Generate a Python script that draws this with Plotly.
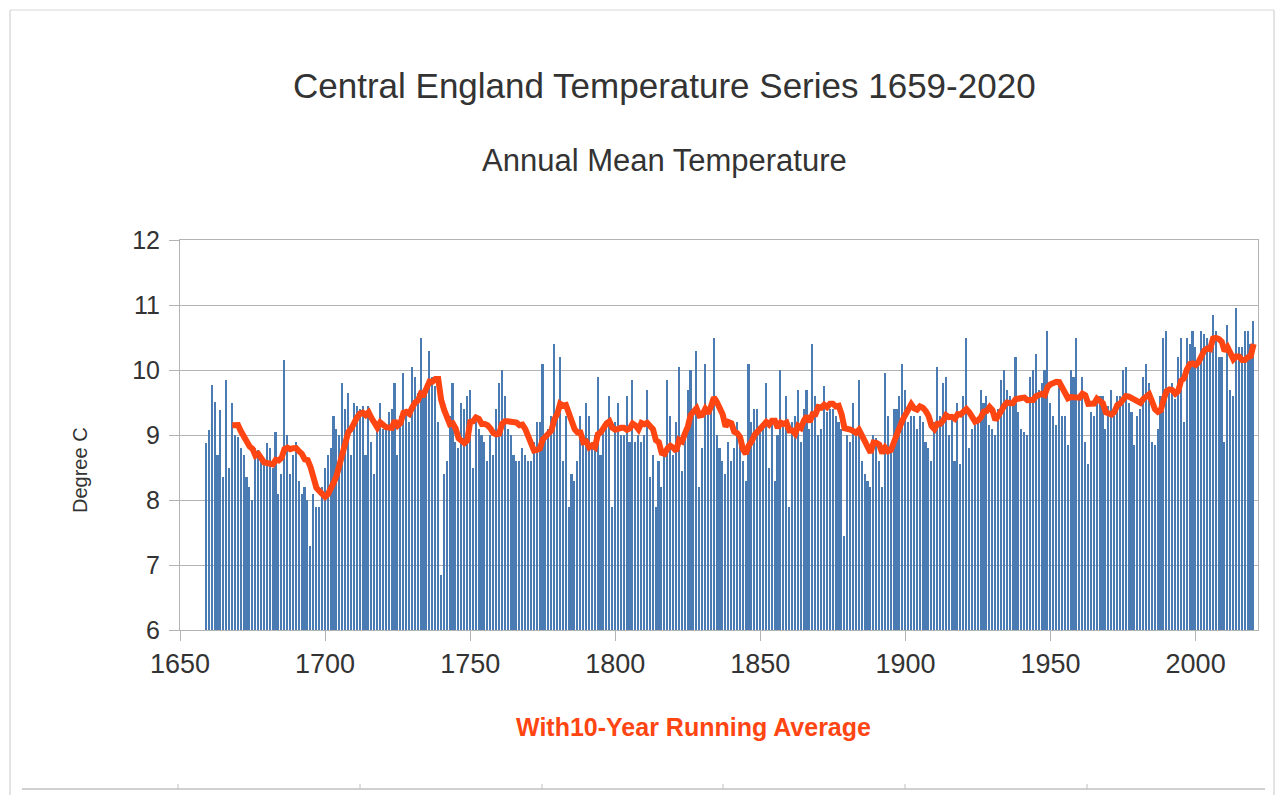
import plotly.graph_objects as go
import pandas as pd

start_year = 1659
temps = [
    # 1659-1668
    8.87, 9.08, 9.77, 9.51, 8.70, 9.38, 8.35, 9.85, 8.50, 9.50,
    # 1669-1678
    9.00, 8.97, 8.80, 8.70, 8.35, 8.20, 8.00, 8.80, 8.77, 8.65,
    # 1679-1688
    8.55, 8.87, 8.80, 8.50, 9.05, 8.10, 8.40, 10.15, 9.00, 8.40,
    # 1689-1698
    8.70, 8.90, 8.30, 8.10, 8.20, 8.00, 7.30, 8.10, 7.90, 7.90,
    # 1699-1708
    8.20, 8.50, 8.70, 8.80, 9.30, 9.10, 9.00, 9.80, 9.40, 9.65,
    # 1709-1718
    8.70, 9.50, 9.45, 9.40, 9.45, 8.70, 9.45, 8.90, 8.40, 9.20,
    # 1719-1728
    9.50, 9.10, 9.10, 9.35, 9.40, 9.80, 8.70, 9.30, 9.95, 9.35,
    # 1729-1738
    9.20, 10.05, 9.90, 9.65, 10.50, 9.65, 9.70, 10.30, 9.90, 9.75,
    # 1739-1748
    9.20, 6.85, 8.40, 8.60, 9.30, 9.80, 8.90, 8.80, 9.50, 9.40,
    # 1749-1758
    9.60, 9.70, 8.50, 9.20, 9.10, 9.00, 8.90, 8.60, 9.00, 8.70,
    # 1759-1768
    9.40, 9.80, 10.00, 9.60, 9.10, 9.00, 8.70, 8.60, 8.60, 8.80,
    # 1769-1778
    8.70, 8.60, 8.60, 8.90, 9.20, 9.20, 10.10, 9.00, 9.10, 9.30,
    # 1779-1788
    10.40, 9.40, 10.20, 8.60, 9.30, 7.90, 8.40, 8.30, 8.60, 9.30,
    # 1789-1798
    8.90, 9.50, 9.30, 8.90, 9.00, 9.90, 8.70, 9.10, 9.20, 9.60,
    # 1799-1808
    7.90, 9.20, 9.50, 9.00, 9.00, 9.60, 8.90, 9.85, 8.90, 9.00,
    # 1809-1818
    8.90, 9.00, 9.70, 8.35, 8.70, 7.90, 8.60, 8.20, 8.75, 9.85,
    # 1819-1828
    9.30, 8.70, 9.20, 10.05, 8.45, 9.10, 9.70, 10.00, 9.30, 10.30,
    # 1829-1838
    8.20, 8.80, 10.10, 9.40, 9.50, 10.50, 9.00, 8.80, 8.60, 8.40,
    # 1839-1848
    8.90, 8.60, 8.80, 9.20, 8.90, 8.60, 8.30, 10.10, 9.20, 9.40,
    # 1849-1858
    9.40, 9.10, 9.20, 9.80, 8.50, 9.20, 8.30, 9.00, 10.00, 9.20,
    # 1859-1868
    9.60, 7.90, 9.20, 9.30, 9.70, 8.90, 9.40, 9.70, 9.10, 10.40,
    # 1869-1878
    9.60, 9.00, 9.10, 9.75, 9.35, 9.40, 9.40, 9.30, 9.20, 9.10,
    # 1879-1888
    7.45, 9.00, 8.90, 9.50, 9.10, 9.85, 8.60, 8.40, 8.30, 8.20,
    # 1889-1898
    9.00, 8.95, 8.60, 8.20, 9.95, 9.30, 8.80, 9.40, 9.40, 9.60,
    # 1899-1908
    10.10, 9.70, 9.20, 9.30, 9.30, 9.10, 9.30, 9.20, 8.90, 8.80,
    # 1909-1918
    8.60, 9.20, 10.05, 9.30, 9.80, 9.90, 9.00, 9.25, 8.60, 9.50,
    # 1919-1928
    8.55, 9.60, 10.50, 8.80, 9.10, 9.15, 9.20, 9.70, 9.50, 9.60,
    # 1929-1938
    9.15, 9.10, 9.00, 9.40, 9.85, 10.00, 9.70, 9.60, 9.50, 10.20,
    # 1939-1948
    9.35, 9.10, 9.05, 9.00, 9.90, 10.00, 10.25, 9.70, 9.80, 10.00,
    # 1949-1958
    10.60, 9.50, 9.30, 9.15, 9.85, 9.30, 9.30, 8.85, 10.00, 9.90,
    # 1959-1968
    10.50, 9.60, 9.90, 8.90, 8.55, 9.35, 9.30, 9.60, 9.60, 9.60,
    # 1969-1978
    9.10, 9.45, 9.70, 9.30, 9.60, 9.60, 10.00, 10.05, 9.50, 9.35,
    # 1979-1988
    8.85, 9.30, 9.40, 9.90, 10.10, 9.80, 8.90, 8.85, 9.10, 9.60,
    # 1989-1998
    10.50, 10.60, 9.65, 9.80, 9.55, 10.20, 10.50, 9.20, 10.50, 10.40,
    # 1999-2008
    10.60, 10.35, 10.10, 10.60, 10.55, 10.50, 10.40, 10.85, 10.60, 10.20,
    # 2009-2018
    10.20, 8.90, 10.70, 9.70, 9.60, 10.95, 10.35, 10.35, 10.60, 10.60,
    # 2019-2020
    10.40, 10.75,
]
years = list(range(start_year, start_year + len(temps)))

window = 10
running_avg = pd.Series(temps).rolling(window).mean().tolist()

title_text = "Central England Temperature Series 1659-2020"
subtitle_text = "Annual Mean Temperature"
y_title = "Degree C"
x_title = "With10-Year Running Average"

bar_color = "#4a7bb3"
line_color = "#ff4512"

fig = go.Figure()
fig.add_trace(go.Bar(x=years, y=temps, marker=dict(color=bar_color, line=dict(width=0)),
                     width=0.55, showlegend=False, name="Annual Mean"))
fig.add_trace(go.Scatter(x=years, y=running_avg, mode="lines",
                         line=dict(color=line_color, width=6), showlegend=False,
                         name="10-Year Running Average"))

# page offset (body margin) and target screen geometry
OFF = 8
W, H = 1283 - 2 * OFF, 803 - 2 * OFF
SX0, SX1, SY0, SY1 = 180, 1258, 240, 630   # plot area on screen
L = SX0 - OFF
R = W - (SX1 - OFF)
T = SY0 - OFF
B = H - (SY1 - OFF)
pw, ph = W - L - R, H - T - B

def px(x):
    return (x - OFF - L) / pw

def py(y):
    return (H - B - (y - OFF)) / ph

font_family = "Liberation Sans, Arial, sans-serif"

frame_shapes = [
    dict(type="line", xref="paper", yref="paper", x0=px(10), x1=px(10), y0=py(10), y1=py(795),
         line=dict(color="#c8c8c8", width=1)),
    dict(type="line", xref="paper", yref="paper", x0=px(1274), x1=px(1274), y0=py(10), y1=py(795),
         line=dict(color="#c8c8c8", width=1)),
    dict(type="line", xref="paper", yref="paper", x0=px(10), x1=px(1274), y0=py(10), y1=py(10),
         line=dict(color="#d8d8d8", width=1)),
    dict(type="line", xref="paper", yref="paper", x0=px(22), x1=px(1265), y0=py(789), y1=py(789),
         line=dict(color="#d0d0d0", width=2)),
]
for rx in [178, 360, 542, 723, 905, 1087]:
    frame_shapes.append(dict(type="line", xref="paper", yref="paper", x0=px(rx), x1=px(rx),
                             y0=py(789), y1=py(784), line=dict(color="#c0c0c0", width=1)))

fig.update_layout(
    width=W, height=H,
    margin=dict(l=L, r=R, t=T, b=B),
    paper_bgcolor="white", plot_bgcolor="white",
    bargap=0,
    font=dict(family=font_family, color="#333333"),
    xaxis=dict(range=[1650, 2021.5], tick0=1650, dtick=50, ticks="outside",
               ticklen=10, tickcolor="#b3b3b3", tickwidth=1,
               showgrid=False, zeroline=False, showline=True, linecolor="#b3b3b3",
               linewidth=1, mirror=True,
               tickfont=dict(size=27, color="#333333", family=font_family)),
    yaxis=dict(range=[6, 12], dtick=1, ticks="outside", ticklen=10,
               tickcolor="#b3b3b3", showgrid=True, gridcolor="#b3b3b3", gridwidth=1,
               zeroline=False, showline=True, linecolor="#b3b3b3", linewidth=1, mirror=True,
               ticklabelstandoff=4,
               tickfont=dict(size=25, color="#333333", family=font_family)),
    annotations=[
        dict(text=title_text, x=px(664), y=py(85), xref="paper", yref="paper",
             showarrow=False, font=dict(size=35, color="#333333", family=font_family),
             xanchor="center", yanchor="middle"),
        dict(text=subtitle_text, x=px(664), y=py(160), xref="paper", yref="paper",
             showarrow=False, font=dict(size=31, color="#333333", family=font_family),
             xanchor="center", yanchor="middle"),
        dict(text=y_title, x=px(80), y=py(470), xref="paper", yref="paper",
             showarrow=False, textangle=-90,
             font=dict(size=20, color="#333333", family=font_family),
             xanchor="center", yanchor="middle"),
        dict(text="<b>" + x_title + "</b>", x=px(693), y=py(727), xref="paper", yref="paper",
             showarrow=False, font=dict(size=25, color=line_color, family=font_family),
             xanchor="center", yanchor="middle"),
    ],
    shapes=frame_shapes,
)

fig.write_html("out.html")
